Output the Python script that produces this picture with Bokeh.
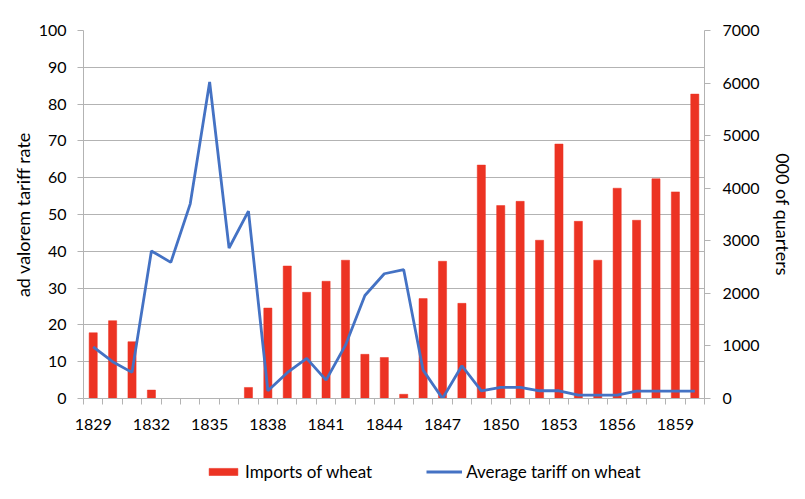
from bokeh.plotting import figure
from bokeh.layouts import column
from bokeh.models import Range1d, LinearAxis, FixedTicker, Legend, LegendItem, ColumnDataSource
from bokeh.embed import file_html
from bokeh.resources import INLINE

years = [1829, 1830, 1831, 1832, 1833, 1834, 1835, 1836, 1837, 1838, 1839, 1840,
         1841, 1842, 1843, 1844, 1845, 1846, 1847, 1848, 1849, 1850, 1851, 1852,
         1853, 1854, 1855, 1856, 1857, 1858, 1859, 1860]
imports_wheat = [1250, 1480, 1080, 160, 0, 0, 0, 0, 210, 1720, 2520, 2020,
                 2230, 2630, 840, 780, 80, 1900, 2610, 1810, 4440, 3670, 3750, 3010,
                 4840, 3370, 2630, 4000, 3390, 4180, 3930, 5790]
tariff_wheat = [14.0, 10.0, 7.1, 40.1, 37.0, 52.9, 86.0, 40.9, 50.9, 2.1, 7.0, 10.9,
                5.0, 14.5, 28.0, 33.9, 35.0, 7.7, 0.0, 8.9, 2.1, 3.0, 3.0, 2.1,
                2.1, 0.9, 0.9, 0.9, 2.0, 2.0, 2.0, 2.0]
x_tick_years = [1829, 1832, 1835, 1838, 1841, 1844, 1847, 1850, 1853, 1856, 1859]
left_ticks = [0, 10, 20, 30, 40, 50, 60, 70, 80, 90, 100]
right_ticks = [0, 1000, 2000, 3000, 4000, 5000, 6000, 7000]
series_names = ["Imports of wheat", "Average tariff on wheat"]

FONT = "Lato"
GRID = "#b3b3b3"
TXT = "#000000"
RED = "#ec3323"
BLUE = "#4472c4"

src = ColumnDataSource(dict(year=years, imports=imports_wheat, tariff=tariff_wheat))

p = figure(frame_width=621, frame_height=368, output_backend="svg", toolbar_location=None,
           x_range=Range1d(years[0] - 0.5, years[-1] + 0.5), y_range=Range1d(0, 100),
           min_border_left=83, min_border_right=95, min_border_top=30, min_border_bottom=50)
p.outline_line_color = None
p.extra_y_ranges = {"q": Range1d(0, 7000)}

bars = p.vbar(x="year", top="imports", width=0.42, source=src, y_range_name="q",
              fill_color=RED, line_color=RED, line_width=0.5)
line = p.line(x="year", y="tariff", source=src, line_color=BLUE, line_width=2.8)

# x axis
minor = [y - 0.5 for y in years] + [years[-1] + 0.5]
xa = p.xaxis[0]
xa.ticker = FixedTicker(ticks=x_tick_years, minor_ticks=minor)
xa.major_label_overrides = {y: str(y) for y in x_tick_years}
xa.major_tick_line_color = None
xa.minor_tick_line_color = GRID
xa.minor_tick_in = 0
xa.minor_tick_out = 6
xa.axis_line_color = GRID
xa.major_label_standoff = 14
xa.major_label_text_font = FONT
xa.major_label_text_font_size = "16px"
xa.major_label_text_color = TXT

# left axis
ya = p.yaxis[0]
ya.ticker = FixedTicker(ticks=left_ticks)
ya.axis_label = "ad valorem tariff rate"
ya.axis_label_text_font = FONT
ya.axis_label_text_font_size = "18px"
ya.axis_label_text_font_style = "normal"
ya.axis_label_text_color = TXT
ya.axis_label_standoff = 2
ya.major_label_text_font = FONT
ya.major_label_text_font_size = "16px"
ya.major_label_text_color = TXT
ya.major_tick_line_color = GRID
ya.major_tick_in = 0
ya.major_tick_out = 6
ya.minor_tick_line_color = None
ya.axis_line_color = GRID
ya.major_label_standoff = 11

# right axis
ra = LinearAxis(y_range_name="q", ticker=FixedTicker(ticks=right_ticks))
ra.axis_label = "000 of quarters"
ra.axis_label_text_font = FONT
ra.axis_label_text_font_size = "18px"
ra.axis_label_text_font_style = "normal"
ra.axis_label_text_color = TXT
ra.axis_label_standoff = 9
ra.major_label_text_font = FONT
ra.major_label_text_font_size = "16px"
ra.major_label_text_color = TXT
ra.major_tick_line_color = GRID
ra.major_tick_in = 0
ra.major_tick_out = 6
ra.minor_tick_line_color = None
ra.axis_line_color = GRID
ra.major_label_standoff = 12
p.add_layout(ra, "right")

p.xgrid.grid_line_color = None
p.ygrid.grid_line_color = GRID
p.ygrid.grid_line_width = 1
p.ygrid.ticker = FixedTicker(ticks=left_ticks)

# legend strip below the chart (its renderers are hidden; only their legend swatches show)
lg = figure(frame_width=621, height=46, output_backend="svg", toolbar_location=None,
            x_range=Range1d(0, 1), y_range=Range1d(0, 1),
            x_axis_location=None, y_axis_location=None,
            min_border_left=83, min_border_right=95, min_border_top=0, min_border_bottom=0)
lg.outline_line_color = None
lg.grid.visible = False
lbar = lg.vbar(x="year", top="imports", width=0.42, source=src,
               fill_color=RED, line_color=RED, line_width=0.5, visible=False)
lline = lg.line(x="year", y="tariff", source=src, line_color=BLUE, line_width=2.8,
                visible=False)

legend = Legend(items=[LegendItem(label=series_names[0], renderers=[lbar]),
                       LegendItem(label=series_names[1], renderers=[lline])],
                orientation="horizontal", location=(122, 12),
                label_text_font=FONT, label_text_font_size="17px", label_text_color=TXT,
                glyph_width=36, glyph_height=9, label_standoff=4, spacing=54,
                border_line_color=None, background_fill_alpha=0, padding=0,
                margin=0, label_height=18, click_policy="none")
lg.add_layout(legend, "center")

layout = column(p, lg, spacing=0)
open("out.html", "w").write(file_html(layout, INLINE))
